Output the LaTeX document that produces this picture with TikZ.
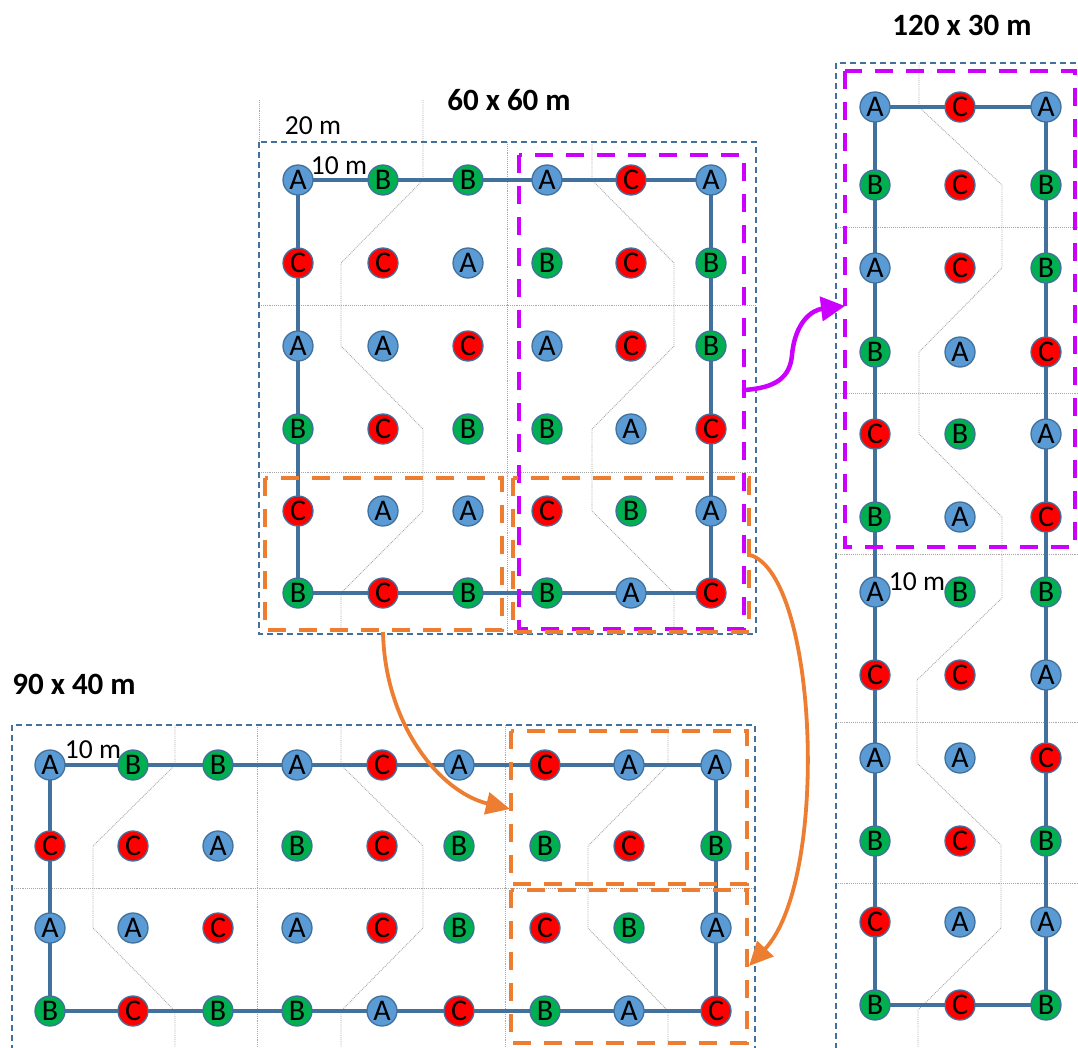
\documentclass[tikz,border=0pt]{standalone}
\usepackage{fontspec}
\setmainfont{Carlito}
\usetikzlibrary{arrows.meta,backgrounds}
\definecolor{cA}{HTML}{5B9BD5}
\definecolor{cB}{HTML}{00B050}
\definecolor{cC}{HTML}{FF0000}
\definecolor{edge}{HTML}{41719C}
\definecolor{mag}{HTML}{CC00FF}
\definecolor{org}{HTML}{ED7D31}
\definecolor{gridc}{HTML}{A8A8A8}
\begin{document}
\begin{tikzpicture}[x=1pt,y=-1pt,
  dot/.style={circle,draw=edge,line width=1.3pt,minimum size=30pt,inner sep=0pt,font=\fontsize{30}{30}\selectfont},
  pA/.style={dot,fill=cA}, pB/.style={dot,fill=cB}, pC/.style={dot,fill=cC},
  route/.style={draw=edge,line width=4.5pt,line join=miter},
  plotbox/.style={draw=edge,line width=1.5pt,dash pattern=on 6pt off 4pt},
  gline/.style={draw=gridc,line width=0.9pt,densely dotted},
  sel/.style={line width=4.8pt,dash pattern=on 18pt off 13pt},
  magsel/.style={sel,draw=mag}, orgsel/.style={sel,draw=org},
  title/.style={font=\bfseries\fontsize{31}{31}\selectfont},
  dimtext/.style={font=\fontsize{27.5}{27.5}\selectfont},
  marrow/.style={draw=mag,line width=4.5pt,-{Triangle[length=24pt,width=24pt]}},
  oarrow/.style={draw=org,line width=3.8pt,-{Triangle[length=24pt,width=22pt]}}
]
\useasboundingbox (0,0) rectangle (1078,1047);

% ---------- block 1 : 60 x 60 m ----------
\def\Xa{{298,383,468,547,631,711}}
\def\Ya{{180,263,346,429,511,593}}
\foreach \row [count=\r from 0] in {{A,B,B,A,C,A},{C,C,A,B,C,B},{A,A,C,A,C,B},{B,C,B,B,A,C},{C,A,A,C,B,A},{B,C,B,B,A,C}}{
  \foreach \L [count=\c from 0] in \row {
    \pgfmathsetmacro\xx{\Xa[\c]}
    \pgfmathsetmacro\yy{\Ya[\r]}
    \node[p\L] (a-\r-\c) at (\xx,\yy) {\L};
  }
}
% ---------- block 2 : 90 x 40 m ----------
\def\Xb{{50,133,218,297,382,459,545,629,716}}
\def\Yb{{765,846,928,1011}}
\foreach \row [count=\r from 0] in {{A,B,B,A,C,A,C,A,A},{C,C,A,B,C,B,B,C,B},{A,A,C,A,C,B,C,B,A},{B,C,B,B,A,C,B,A,C}}{
  \foreach \L [count=\c from 0] in \row {
    \pgfmathsetmacro\xx{\Xb[\c]}
    \pgfmathsetmacro\yy{\Yb[\r]}
    \node[p\L] (b-\r-\c) at (\xx,\yy) {\L};
  }
}
% ---------- block 3 : 120 x 30 m ----------
\def\Xc{{875,960,1046}}
\def\Yc{{107,185,268,352,434,517,592,675,758,841,922,1005}}
\foreach \row [count=\r from 0] in {{A,C,A},{B,C,B},{A,C,B},{B,A,C},{C,B,A},{B,A,C},{A,B,B},{C,C,A},{A,A,C},{B,C,B},{C,A,A},{B,C,B}}{
  \foreach \L [count=\c from 0] in \row {
    \pgfmathsetmacro\xx{\Xc[\c]}
    \pgfmathsetmacro\yy{\Yc[\r]}
    \node[p\L] (c-\r-\c) at (\xx,\yy) {\L};
  }
}

\begin{scope}[on background layer]
  % grey subplot lines, block 1
  \draw[gline] (259,100) -- (259,142);
  \draw[gline] (423,100) -- (423,180) -- (341,263) -- (341,346) -- (423,429) -- (423,511) -- (341,593) -- (341,634);
  \draw[gline] (592,142) -- (592,180) -- (674,263) -- (674,346) -- (592,429) -- (592,511) -- (674,593) -- (674,634);
  \draw[gline] (507,142) -- (507,634);
  \draw[gline] (259,305) -- (756,305);
  \draw[gline] (259,472) -- (756,472);
  % block 2
  \draw[gline] (175,725) -- (175,765) -- (93,846) -- (93,928) -- (175,1011) -- (175,1047);
  \draw[gline] (341,725) -- (341,765) -- (423,846) -- (423,928) -- (341,1011) -- (341,1047);
  \draw[gline] (668,725) -- (668,765) -- (588,846) -- (588,928) -- (668,1011) -- (668,1047);
  \draw[gline] (257,725) -- (257,1047);
  \draw[gline] (505,725) -- (505,1047);
  \draw[gline] (12,888) -- (755,888);
  % block 3
  \draw[gline] (919,63) -- (919,107) -- (1002,185) -- (1002,268) -- (919,352) -- (919,434) -- (1002,517) -- (1002,598) -- (917,680) -- (917,763) -- (1001,845) -- (1001,928) -- (918,1010) -- (918,1047);
  \foreach \gy in {227,393,554,722,883} \draw[gline] (836,\gy) -- (1078,\gy);
  % plot outlines
  \draw[plotbox] (259,142) rectangle (756,634);
  \draw[plotbox] (12,725) rectangle (755,1062);
  \draw[plotbox] (836,63) rectangle (1092,1062);
  % routes
  \draw[route] (a-0-0.center) -- (a-0-5.center) -- (a-5-5.center) -- (a-5-0.center) -- cycle;
  \draw[route] (b-0-0.center) -- (b-0-8.center) -- (b-3-8.center) -- (b-3-0.center) -- cycle;
  \draw[route] (c-0-0.center) -- (c-0-2.center) -- (c-11-2.center) -- (c-11-0.center) -- cycle;
\end{scope}

% labels
\node[title] (t1) at (509,100) {60 x 60 m};
\node[title] (t3) at (962,25) {120 x 30 m};
\node[title] (t2) at (74,684) {90 x 40 m};
\node[dimtext] (d20) at (313,126) {20 m};
\node[dimtext] (d1) at (339,166) {10 m};
\node[dimtext] (d2) at (93,750) {10 m};
\node[dimtext] (d3) at (917,582) {10 m};

% selection boxes
\draw[magsel] (519,155) rectangle (744,629);
\draw[orgsel] (265,478) rectangle (502,630);
\draw[orgsel] (513,478) rectangle (749,632);
\draw[magsel] (845,71) rectangle (1075,547);
\draw[orgsel] (511,731) rectangle (747,884);
\draw[orgsel] (511,890) rectangle (747,1043);

% arrows
\coordinate (ms) at (744,390);
\coordinate (me) at (845,306);
\draw[marrow] (ms) .. controls (775,388) and (790,378) .. (792,355) .. controls (795,322) and (812,310) .. (me);
\coordinate (os1) at (383,632);
\coordinate (oe1) at (510,809);
\draw[oarrow] (os1) .. controls (385,725) and (440,792) .. (oe1);
\coordinate (os2) at (750,555);
\coordinate (oe2) at (749,966);
\draw[oarrow] (os2) .. controls (818,575) and (830,880) .. (oe2);
\end{tikzpicture}
\end{document}
